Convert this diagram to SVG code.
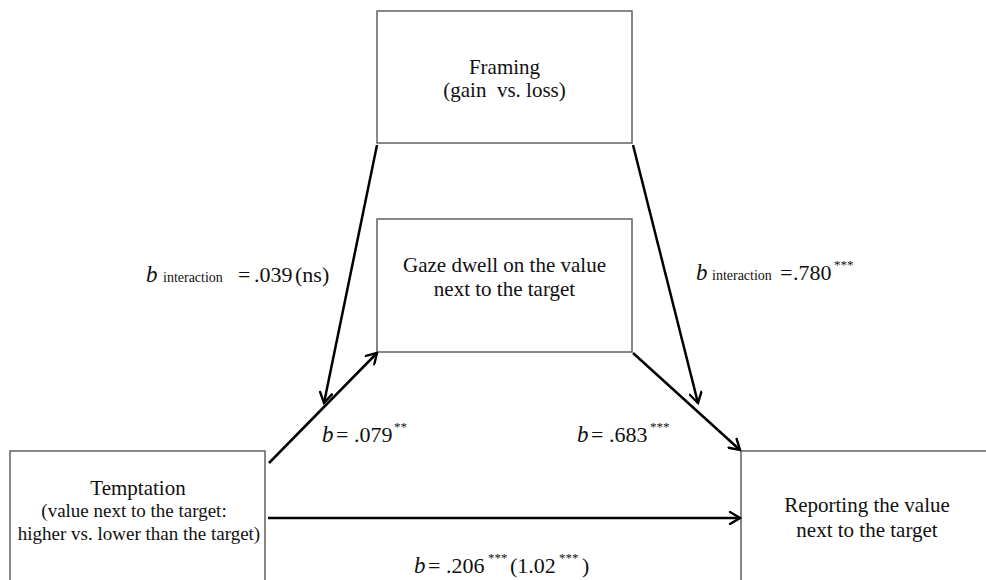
<svg xmlns="http://www.w3.org/2000/svg" width="986" height="580" viewBox="0 0 986 580">
<defs>
<marker id="arr" viewBox="0 0 14 14" refX="12" refY="7" markerWidth="14" markerHeight="14" markerUnits="userSpaceOnUse" orient="auto">
<path d="M2,1 L12,7 L2,13" fill="none" stroke="#000" stroke-width="2.4" stroke-linecap="round" stroke-linejoin="miter"/>
</marker>
<style>
.box{fill:#fff;stroke:#606060;stroke-width:1.5}
.t{font-family:"Liberation Serif","Times New Roman",serif;fill:#111;text-anchor:middle}
.l{font-family:"Liberation Serif","Times New Roman",serif;fill:#111;font-size:22px}
.b{font-style:italic;font-size:23px}
.s{font-size:14px}
.sup{font-size:13px}
.c{fill:none;stroke:#000;stroke-width:2.5;marker-end:url(#arr)}
</style>
</defs>
<rect width="986" height="580" fill="#fff"/>
<g id="framing">
<rect class="box" x="377" y="11" width="255" height="132"/>
<text class="t" font-size="21" x="504.5" y="74">Framing</text>
<text class="t" font-size="21" x="504.5" y="97" xml:space="preserve">(gain  vs. loss)</text>
</g>
<g id="gaze">
<rect class="box" x="377" y="219" width="255" height="133"/>
<text class="t" font-size="21" x="504.5" y="272">Gaze dwell on the value</text>
<text class="t" font-size="21" x="504.5" y="296">next to the target</text>
</g>
<g id="temptation">
<rect class="box" x="10" y="451" width="255" height="140"/>
<text class="t" font-size="21" x="138" y="495">Temptation</text>
<text class="t" font-size="19" x="134" y="517">(value next to the target:</text>
<text class="t" font-size="19" x="139" y="540">higher vs. lower than the target)</text>
</g>
<g id="reporting">
<rect class="box" x="741" y="451" width="255" height="140"/>
<text class="t" font-size="21" x="867" y="512">Reporting the value</text>
<text class="t" font-size="21" x="867" y="537">next to the target</text>
</g>
<g id="connectors">
<line class="c" x1="269" y1="463" x2="377" y2="353"/>
<line class="c" x1="633" y1="353" x2="740" y2="450"/>
<line class="c" x1="268" y1="518" x2="740" y2="518"/>
<line class="c" x1="377" y1="145" x2="324" y2="403"/>
<line class="c" x1="633" y1="145" x2="698" y2="403"/>
</g>
<g id="labels">
<text class="l" y="282"><tspan class="b" x="146">b</tspan><tspan class="s" x="163">interaction</tspan><tspan x="238">=</tspan><tspan x="254">.039</tspan><tspan x="295">(ns)</tspan></text>
<text class="l" y="280"><tspan class="b" x="696">b</tspan><tspan class="s" x="712">interaction</tspan><tspan x="780">=</tspan><tspan x="793">.780</tspan><tspan class="sup" x="834" y="269">***</tspan></text>
<text class="l" y="442"><tspan class="b" x="322">b</tspan><tspan x="336">= .079</tspan><tspan class="sup" x="394" y="431">**</tspan></text>
<text class="l" y="442"><tspan class="b" x="577">b</tspan><tspan x="591">= .683</tspan><tspan class="sup" x="650" y="431">***</tspan></text>
<text class="l" y="573"><tspan class="b" x="414">b</tspan><tspan x="428">= .206</tspan><tspan class="sup" x="488" y="562">***</tspan><tspan x="510" y="573">(1.02</tspan><tspan class="sup" x="559" y="562">***</tspan><tspan x="582" y="573">)</tspan></text>
</g>
</svg>
